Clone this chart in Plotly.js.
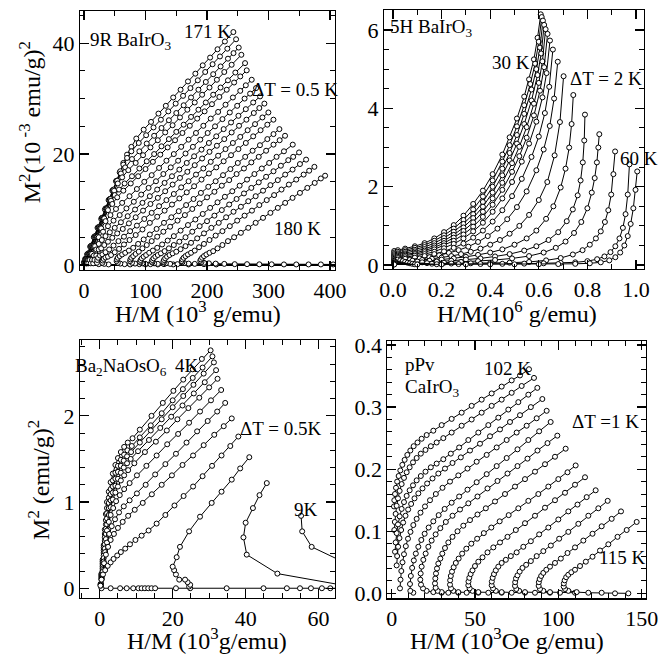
<!DOCTYPE html>
<html><head><meta charset="utf-8">
<script src="https://cdn.plot.ly/plotly-3.0.1.min.js"></script>
<style>html,body{margin:0;padding:0;background:#fff}#chart{width:660px;height:658px}</style>
</head><body><div id="chart"></div>
<script>
// ---------- Panel 1: 9R BaIrO3, M^2 (10^-3 emu/g)^2 vs H/M (10^3 g/emu) ----------
const p1Temps = [171,171.5,172,172.5,173,173.5,174,174.5,175,175.5,176,176.5,177,177.5,178,178.5,179,179.5,180];
const p1X = [
[0,2,5,10,16,22,28,34,40,46,52,58,64,70,77,85,97,109,121,133,145,157,169,181,193,205,217,229,242.8],
[0.5,2.5,6,11,17,23,29,35,41,47,53,59,64,70,77,89,101,113,125,137,149,161,173,185,197,209,221,233,247.2],
[1,3,7,12,18,24,30,36,42,48,54,60,67,78,90,102,114,126,138,150,162,174,186,198,210,222,234,243,251.5],
[2,4,8,13,19,25,31,37,43,49,55,62,72,84,96,108,120,132,144,156,168,180,192,204,216,228,240,255.8],
[3,5,9,14,20,26,32,38,44,50,57,66,78,90,102,114,126,138,150,162,174,186,198,210,222,234,246,261.8],
[4,6,10,15,21,27,33,39,46,54,64,76,88,100,112,124,136,148,160,172,184,196,208,220,232,244,254,264.5],
[5,7,11,16,22,28,35,43,52,62,74,86,98,110,122,134,146,158,170,182,194,206,218,230,242,254,263,272.6],
[7,9,13,18,24,31,39,48,58,69,81,93,105,117,129,141,153,165,177,189,201,213,225,237,249,261,270,279.7],
[11,13,16,20,24,29,35,42,50,60,71,83,95,107,119,131,143,155,167,179,191,203,215,227,239,251,263,275,286.2],
[15,17,20,24,28,33,39,46,54,63,73,84,96,108,120,132,144,156,168,180,192,204,216,228,240,252,264,276,285,293.2],
[24,21,21.5,23,26,30,35,41,48,56,65,75,86,98,110,122,134,146,158,170,182,194,206,218,230,242,254,266,278,290,299.7],
[40,33,30,30.5,32,35,39,44,50,57,65,74,84,95,107,119,131,143,155,167,179,191,203,215,227,239,251,263,275,287,298,307.9],
[75,66,59,55,53,53.5,55,58,62,67,73,80,88,97,107,118,130,142,154,166,178,190,202,214,226,238,250,262,274,286,298,308,317.6],
[100,90,83,78,75,75.5,77,80,84,89,95,102,110,119,129,140,152,164,176,188,200,212,224,236,248,260,272,284,296,308,318,326.8],
[120,108,100,95,92,91,92,94,97,101,106,112,119,127,136,146,157,169,181,193,205,217,229,241,253,265,277,289,301,313,325,339.3],
[145,130,120,114,111,110,111,113,116,120,125,131,138,146,155,165,176,188,200,212,224,236,248,260,272,284,296,308,320,332,340,349.6],
[170,152,140,133,130,129,130,132,135,139,144,150,157,165,174,184,195,207,219,231,243,255,267,279,291,303,315,327,339,351,361],
[215,195,180,170,163,160,159,160,162,165,169,174,180,187,195,204,214,225,237,249,261,273,285,297,309,321,333,345,357,366,374.5],
[405,385,365,345,325,305,285,265,245,228,214,203,195,191,189,190,192,195,199,204,210,217,225,234,244,255,267,279,291,303,315,327,339,351,363,375,385,391.9]
];
const p1Y = [
[0.5,1.1,1.9,3.3,5.0,6.7,8.3,10.0,11.7,13.4,15.1,16.7,18.4,19.9,21.3,22.8,24.4,25.8,27.3,28.7,30.2,31.6,33.1,34.5,36.0,37.4,38.9,40.3,42.0],
[0.5,1.1,2.0,3.4,5.1,6.8,8.5,10.2,11.8,13.5,15.2,16.9,18.1,19.3,20.5,22.0,23.4,24.8,26.2,27.7,29.1,30.5,31.9,33.3,34.8,36.2,37.6,39.0,40.7],
[0.4,1.0,2.1,3.5,5.2,6.8,8.5,10.2,11.9,13.6,15.2,16.5,17.6,19.1,20.5,21.9,23.3,24.7,26.1,27.4,28.8,30.2,31.6,33.0,34.4,35.8,37.2,38.2,39.2],
[0.4,1.0,2.1,3.5,5.2,6.8,8.5,10.2,11.9,13.4,14.7,15.8,17.1,18.4,19.8,21.2,22.5,23.9,25.2,26.6,28.0,29.3,30.7,32.0,33.4,34.8,36.1,37.9],
[0.3,0.9,2.0,3.4,5.1,6.7,8.4,10.1,11.6,12.6,13.6,14.7,16.0,17.4,18.7,20.0,21.4,22.7,24.0,25.3,26.7,28.0,29.3,30.7,32.0,33.3,34.7,36.4],
[0.3,0.9,2.0,3.4,5.1,6.7,8.4,9.9,11.0,12.2,13.4,14.7,16.0,17.3,18.6,19.9,21.2,22.5,23.8,25.1,26.4,27.7,29.0,30.3,31.6,32.9,34.0,35.1],
[0.3,0.9,2.0,3.4,5.1,6.6,7.9,9.0,10.1,11.2,12.4,13.7,15.0,16.2,17.5,18.8,20.0,21.3,22.6,23.8,25.1,26.4,27.6,28.9,30.2,31.4,32.4,33.4],
[0.3,0.9,2.0,3.4,5.0,6.0,7.0,8.0,9.0,10.2,11.4,12.7,13.9,15.1,16.4,17.6,18.8,20.1,21.3,22.6,23.8,25.0,26.3,27.5,28.7,30.0,30.9,31.9],
[0.3,0.9,1.7,2.8,3.8,4.5,5.2,5.9,6.7,7.7,8.8,10.0,11.2,12.4,13.6,14.8,16.0,17.2,18.4,19.6,20.8,22.0,23.2,24.5,25.7,26.9,28.1,29.3,30.4],
[0.3,0.9,1.7,2.8,3.0,3.6,4.2,4.9,5.7,6.5,7.5,8.6,9.8,11.0,12.1,13.3,14.5,15.7,16.8,18.0,19.2,20.4,21.5,22.7,23.9,25.1,26.2,27.4,28.3,29.1],
[0.15,0.4,0.9,1.3,1.7,1.9,2.3,2.8,3.5,4.3,5.1,6.1,7.1,8.3,9.4,10.6,11.7,12.8,14.0,15.1,16.3,17.4,18.6,19.7,20.9,22.0,23.1,24.3,25.4,26.6,27.5],
[0.1,0.2,0.4,0.8,1.1,1.35,1.5,1.8,2.3,2.9,3.7,4.5,5.4,6.4,7.6,8.7,9.8,10.9,12.0,13.1,14.2,15.4,16.5,17.6,18.7,19.8,20.9,22.0,23.2,24.3,25.3,26.2],
[0.1,0.15,0.25,0.4,0.7,1.0,1.3,1.6,1.9,2.2,2.6,3.1,3.8,4.6,5.5,6.5,7.6,8.6,9.7,10.8,11.9,13.0,14.1,15.1,16.2,17.3,18.4,19.5,20.6,21.6,22.7,23.6,24.5],
[0.1,0.15,0.25,0.4,0.7,1.0,1.3,1.6,2.0,2.4,3.0,3.6,4.3,5.1,6.0,6.9,8.0,9.0,10.1,11.1,12.2,13.2,14.3,15.3,16.4,17.4,18.5,19.5,20.6,21.7,22.5,23.3],
[0.1,0.15,0.2,0.3,0.45,0.6,0.9,1.2,1.5,1.8,2.2,2.6,3.1,3.7,4.4,5.2,6.2,7.2,8.2,9.2,10.3,11.3,12.3,13.3,14.3,15.4,16.4,17.4,18.4,19.5,20.5,21.7],
[0.1,0.15,0.2,0.3,0.45,0.6,0.9,1.2,1.5,1.8,2.1,2.5,3.0,3.6,4.2,5.0,6.0,7.0,7.9,8.9,9.9,10.9,11.9,12.9,13.9,14.9,15.9,16.9,17.9,18.9,19.5,20.3],
[0.1,0.15,0.2,0.3,0.45,0.6,0.9,1.2,1.5,1.8,2.1,2.4,2.85,3.4,4.0,4.8,5.7,6.7,7.6,8.6,9.6,10.5,11.5,12.4,13.4,14.4,15.3,16.3,17.2,18.2,19.0],
[0.1,0.15,0.2,0.25,0.35,0.5,0.7,1.0,1.3,1.6,1.9,2.2,2.6,3.2,3.8,4.5,5.3,6.1,7.0,8.0,8.9,9.8,10.8,11.7,12.6,13.6,14.5,15.4,16.3,17.0,17.7],
[0.1,0.1,0.1,0.1,0.1,0.12,0.12,0.15,0.15,0.2,0.25,0.3,0.4,0.55,0.75,1.0,1.3,1.6,1.9,2.2,2.5,3.0,3.6,4.3,5.0,5.8,6.7,7.6,8.5,9.4,10.3,11.2,12.1,13.0,13.9,14.8,15.6,16.1]
];

// ---------- Panel 2: 5H BaIrO3, M^2 vs H/M (10^6 g/emu) ----------
const p2Temps = [30,32,34,36,38,40,42,44,46,48,50,52,54,56,58,60];
const p2X = [
[0.005,0.02,0.05,0.09,0.13,0.17,0.21,0.25,0.29,0.33,0.37,0.41,0.45,0.48,0.51,0.54,0.56,0.58,0.595,0.608],
[0.005,0.02,0.05,0.09,0.13,0.17,0.21,0.25,0.29,0.33,0.37,0.41,0.45,0.48,0.51,0.54,0.565,0.585,0.60,0.612],
[0.005,0.02,0.05,0.09,0.13,0.17,0.21,0.25,0.29,0.33,0.37,0.41,0.45,0.48,0.51,0.54,0.57,0.59,0.605,0.617],
[0.005,0.02,0.05,0.09,0.13,0.17,0.21,0.25,0.29,0.33,0.37,0.41,0.45,0.48,0.51,0.54,0.57,0.595,0.61,0.622],
[0.005,0.02,0.05,0.09,0.13,0.17,0.21,0.25,0.29,0.33,0.37,0.41,0.45,0.49,0.52,0.55,0.58,0.60,0.615,0.628],
[0.005,0.02,0.05,0.09,0.13,0.17,0.21,0.25,0.29,0.33,0.37,0.41,0.45,0.49,0.52,0.55,0.58,0.605,0.622,0.636],
[0.005,0.02,0.05,0.09,0.13,0.17,0.21,0.25,0.29,0.33,0.37,0.41,0.45,0.49,0.53,0.56,0.59,0.615,0.632,0.646],
[0.005,0.02,0.05,0.09,0.13,0.17,0.21,0.25,0.29,0.33,0.37,0.41,0.45,0.49,0.53,0.57,0.60,0.625,0.643,0.658],
[0.005,0.03,0.07,0.11,0.15,0.19,0.23,0.27,0.31,0.35,0.39,0.43,0.47,0.51,0.55,0.59,0.62,0.645,0.663,0.678],
[0.005,0.04,0.08,0.12,0.16,0.20,0.24,0.28,0.32,0.36,0.40,0.44,0.48,0.52,0.56,0.60,0.635,0.665,0.687,0.702],
[0.005,0.05,0.10,0.15,0.20,0.25,0.30,0.35,0.40,0.45,0.50,0.55,0.59,0.63,0.66,0.69,0.71,0.725,0.735,0.742],
[0.005,0.06,0.12,0.18,0.24,0.30,0.36,0.42,0.48,0.54,0.59,0.64,0.68,0.715,0.74,0.76,0.772,0.781,0.787,0.790],
[0.005,0.07,0.14,0.21,0.28,0.35,0.42,0.49,0.56,0.62,0.67,0.71,0.745,0.775,0.80,0.818,0.83,0.839,0.845,0.849],
[0.005,0.08,0.16,0.24,0.32,0.40,0.48,0.56,0.63,0.69,0.74,0.78,0.81,0.835,0.855,0.872,0.886,0.898,0.907,0.914],
[0.005,0.09,0.18,0.27,0.36,0.45,0.54,0.62,0.69,0.75,0.80,0.84,0.87,0.895,0.915,0.932,0.946,0.957,0.966,0.973],
[0.005,0.10,0.20,0.30,0.40,0.50,0.60,0.68,0.75,0.81,0.855,0.89,0.915,0.935,0.952,0.966,0.978,0.989,0.998,1.005]
];
const p2Y = [
[0.36,0.38,0.42,0.48,0.56,0.68,0.84,1.02,1.26,1.56,1.90,2.32,2.82,3.26,3.74,4.30,4.74,5.25,5.80,6.40],
[0.32,0.34,0.38,0.44,0.51,0.62,0.76,0.93,1.15,1.42,1.75,2.16,2.64,3.06,3.54,4.08,4.62,5.14,5.70,6.33],
[0.28,0.30,0.34,0.39,0.46,0.56,0.69,0.85,1.05,1.30,1.61,2.00,2.46,2.86,3.32,3.86,4.48,5.00,5.55,6.24],
[0.25,0.27,0.30,0.35,0.41,0.50,0.62,0.77,0.96,1.20,1.49,1.85,2.29,2.67,3.10,3.60,4.20,4.85,5.40,6.13],
[0.22,0.24,0.27,0.31,0.37,0.45,0.56,0.70,0.87,1.09,1.36,1.70,2.10,2.60,3.02,3.52,4.12,4.65,5.20,6.02],
[0.19,0.21,0.24,0.28,0.33,0.40,0.50,0.62,0.78,0.98,1.23,1.54,1.92,2.38,2.78,3.25,3.82,4.45,5.05,5.90],
[0.16,0.18,0.20,0.24,0.28,0.34,0.43,0.54,0.68,0.86,1.08,1.36,1.70,2.12,2.64,3.10,3.66,4.28,4.90,5.73],
[0.13,0.14,0.16,0.19,0.23,0.28,0.35,0.44,0.55,0.70,0.88,1.11,1.40,1.76,2.20,2.76,3.28,3.88,4.55,5.50],
[0.11,0.12,0.14,0.17,0.20,0.25,0.31,0.38,0.47,0.59,0.74,0.93,1.17,1.48,1.88,2.42,2.95,3.55,4.25,5.19],
[0.09,0.10,0.11,0.13,0.16,0.19,0.23,0.28,0.34,0.42,0.52,0.64,0.80,1.00,1.28,1.66,2.12,2.80,3.65,4.82],
[0.07,0.08,0.09,0.11,0.14,0.17,0.21,0.26,0.32,0.40,0.52,0.68,0.88,1.18,1.50,1.98,2.46,3.00,3.60,4.34],
[0.05,0.06,0.07,0.09,0.11,0.14,0.17,0.22,0.28,0.37,0.48,0.64,0.84,1.12,1.42,1.78,2.16,2.62,3.18,3.84],
[0.04,0.045,0.05,0.06,0.08,0.10,0.13,0.17,0.23,0.32,0.44,0.60,0.82,1.10,1.45,1.85,2.22,2.62,3.00,3.34],
[0.03,0.032,0.035,0.04,0.045,0.05,0.06,0.08,0.12,0.18,0.27,0.38,0.52,0.68,0.86,1.10,1.40,1.80,2.32,2.90],
[0.02,0.02,0.022,0.025,0.028,0.032,0.037,0.045,0.055,0.07,0.10,0.15,0.22,0.33,0.48,0.68,0.95,1.30,1.80,2.57],
[0.015,0.015,0.016,0.017,0.018,0.02,0.022,0.026,0.032,0.045,0.07,0.12,0.2,0.32,0.5,0.74,1.05,1.45,1.92,2.39]
];

// ---------- Panel 3: Ba2NaOsO6, M^2 (emu/g)^2 vs H/M (10^3 g/emu) ----------
const p3Temps = [4,4.5,5,5.5,6,6.5,7,7.5,8,8.5,9,9.5];
const p3X = [
[0.3,0.5,0.8,1.1,1.4,1.7,2.0,2.5,3.0,3.6,4.3,5.0,5.8,6.7,7.7,9.0,11.0,14.2,17.3,20.2,22.9,25.5,28.0,30.4],
[0.3,0.5,0.8,1.1,1.4,1.7,2.0,2.5,3.0,3.6,4.3,5.0,5.8,6.7,7.6,8.8,11.0,14.0,17.0,20.0,22.8,25.5,28.2,30.9],
[0.3,0.5,0.8,1.1,1.4,1.7,2.0,2.5,3.0,3.6,4.3,5.0,5.8,6.6,7.5,8.6,11.0,14.0,17.0,20.0,22.9,25.7,28.5,31.3],
[0.3,0.5,0.8,1.1,1.4,1.7,2.0,2.5,3.0,3.6,4.3,5.0,5.8,6.6,7.5,8.5,10.5,13.5,16.6,19.6,22.7,25.8,28.8,31.9],
[0.3,0.5,0.8,1.1,1.4,1.7,2.0,2.5,3.0,3.6,4.3,5.0,5.8,6.7,7.8,9.5,12.4,15.4,18.4,21.3,24.3,27.3,30.0,32.3],
[0.3,0.5,0.8,1.1,1.4,1.7,2.0,2.5,3.0,3.7,4.5,5.5,6.7,8.2,10.2,12.8,15.6,18.5,21.5,24.5,27.5,30.5,33.3],
[0.3,0.5,0.8,1.1,1.5,2.0,2.6,3.3,4.2,5.3,6.6,8.2,10.2,12.6,15.2,18.0,20.9,23.8,26.7,29.6,32.2,34.4],
[0.3,0.5,0.8,1.2,1.7,2.3,3.0,3.9,5.0,6.3,7.8,9.6,11.8,14.3,17.0,19.8,22.7,25.6,28.5,31.4,34.0,36.2],
[0.2,0.5,0.9,1.5,2.2,3.0,3.8,4.8,5.8,7.0,8.3,9.8,11.5,13.4,15.6,18.0,20.5,23.0,25.6,28.2,30.8,33.4,35.8,38.0],
[24.5,24.8,24.1,23.4,21.8,20.9,20.4,20.0,21.1,22.0,24.5,27.5,30.7,33.4,36.2,38.5,41.0],
[70,48.7,40.3,39.4,40.0,42.0,43.8,45.8],
[70,58.1,55.5,55.2]
];
const p3Y = [
[0.05,0.17,0.33,0.50,0.68,0.86,1.00,1.12,1.23,1.33,1.43,1.51,1.58,1.64,1.69,1.74,1.84,2.00,2.15,2.29,2.42,2.54,2.66,2.76],
[0.05,0.16,0.31,0.47,0.63,0.79,0.93,1.05,1.15,1.25,1.34,1.42,1.49,1.55,1.60,1.65,1.75,1.89,2.03,2.18,2.31,2.44,2.56,2.69],
[0.05,0.15,0.29,0.44,0.59,0.74,0.87,0.99,1.09,1.18,1.27,1.35,1.42,1.48,1.53,1.58,1.69,1.83,1.96,2.10,2.23,2.36,2.49,2.62],
[0.05,0.14,0.27,0.41,0.55,0.69,0.81,0.93,1.02,1.11,1.19,1.27,1.34,1.40,1.45,1.50,1.59,1.72,1.86,1.99,2.12,2.26,2.39,2.53],
[0.04,0.13,0.25,0.38,0.51,0.63,0.74,0.85,0.94,1.03,1.11,1.18,1.25,1.31,1.37,1.45,1.58,1.70,1.83,1.96,2.09,2.21,2.33,2.43],
[0.04,0.12,0.23,0.35,0.46,0.57,0.67,0.77,0.85,0.93,1.01,1.08,1.15,1.22,1.31,1.42,1.54,1.67,1.79,1.92,2.05,2.18,2.30],
[0.04,0.11,0.21,0.31,0.42,0.53,0.63,0.72,0.80,0.88,0.95,1.02,1.10,1.20,1.32,1.44,1.56,1.69,1.82,1.94,2.05,2.15],
[0.03,0.10,0.19,0.29,0.39,0.48,0.56,0.63,0.70,0.77,0.84,0.91,0.99,1.09,1.20,1.31,1.43,1.54,1.66,1.78,1.88,1.97],
[0.03,0.10,0.16,0.21,0.26,0.30,0.34,0.38,0.42,0.46,0.51,0.56,0.61,0.67,0.75,0.85,0.96,1.07,1.18,1.30,1.42,1.54,1.65,1.76],
[0.02,0.04,0.07,0.10,0.10,0.16,0.21,0.25,0.36,0.48,0.66,0.83,0.99,1.12,1.26,1.39,1.52],
[0.01,0.17,0.39,0.59,0.76,0.93,1.08,1.22],
[0.24,0.48,0.66,0.84]
];
const p3BaseX = [0.5,3.0,5.6,7.4,9.2,10.6,11.5,12.4,13.3,14.2,15.2,20.9,24.8,34.8,44.9,51.3,54.9,57.9,60.9,63.2,70];
const p3BaseY = [0,0,0,0,0,0,0,0,0,0,0,0,0,0,0,0,0,0,0,0,0];

// ---------- Panel 4: pPv CaIrO3, M^2 vs H/M (10^3 Oe g/emu) ----------
const p4Temps = [102,103,104,105,106,107,108,109,110,111,112,113,114,115];
const p4X = [
[1.4,1.6,2.0,2.6,3.3,4.2,5.2,6.4,7.8,9.4,11.2,13.2,15.5,18.0,21,25,30,36,42,48,54,60,66,72,77,82.4],
[1.6,1.9,2.4,3.0,3.8,4.8,6.0,7.4,9.0,10.8,12.8,15.0,17.5,20.3,23.5,27,31,36,42,48,54,60,66,72,78,85.4],
[2.0,2.4,3.0,3.8,4.8,6.0,7.4,9.0,10.8,12.8,15.0,17.5,20.3,23.5,27,31,35.5,40.5,46,52,58,64,70,76,82,87.4],
[3.0,3.3,3.9,4.7,5.7,6.9,8.3,9.9,11.7,13.7,16,18.5,21.3,24.5,28,32,36.5,41.5,47,53,59,65,71,77,83.5,90.4],
[5.0,5.3,5.8,6.5,7.4,8.5,9.8,11.3,13.0,15.0,17.3,20,23,26.5,30.5,35,40,45.5,51,57,63,69,75,81,87,93.0],
[13.0,11.2,11.0,11.5,12.3,13.3,14.5,16.0,17.8,19.8,22.2,25,28.2,31.8,36,40.5,45.5,51,57,63,69,75.5,82,88.5,95.4],
[30,25,21,18.8,17.6,17.2,17.4,18.0,19.0,20.4,22.0,24.0,26.4,29.2,32.5,36.5,41,46,51.5,57.5,63.5,69.5,75.5,81.5,87.5,93.5,99.4],
[40,34,30,27.6,26.4,26.0,26.2,26.6,27.2,28.0,29.2,30.4,32.0,34.0,36.5,39.5,43,47,51.5,56.5,62,68,74,80,86,92,98,104.4],
[52,45,40,37,35.6,35.0,35.1,35.5,36.2,37.2,38.5,40.2,42.3,44.8,47.8,51.3,55.3,59.8,64.8,70.2,76,82,88,94,100,105.5,110.4],
[66,58,52,48.5,46.8,46.0,46.1,46.6,47.4,48.5,50.0,52.0,54.5,57.5,61,65,69.5,74.5,80,86,92,98,104,110,116.0],
[80,72,66,62.5,60.8,60.0,60.1,60.6,61.4,62.5,64,66,68.5,71.5,75,79,83.5,88.5,94,100,106,111.5,117,122.4],
[95,86,80,76.5,74.8,74.0,74.1,74.6,75.5,76.8,78.5,80.7,83.5,87,91,95.5,100.5,106,112,118,124,129.6],
[110,101,95,91,89,88.2,88.3,88.8,89.7,91,92.8,95,98,101.5,105.5,110,115,120.5,126,132,137.6],
[142,134,126,118,111,106,104,103.2,103.3,103.8,104.7,106,107.8,110,113,116.5,120.5,125,130,135.5,141,147.0]
];
const p4Y = [
[0.140,0.150,0.160,0.170,0.180,0.189,0.198,0.207,0.215,0.223,0.230,0.237,0.243,0.249,0.255,0.262,0.271,0.281,0.291,0.302,0.312,0.322,0.333,0.343,0.351,0.361],
[0.102,0.115,0.128,0.141,0.153,0.165,0.176,0.186,0.195,0.203,0.211,0.218,0.225,0.231,0.237,0.243,0.250,0.259,0.270,0.280,0.291,0.302,0.312,0.323,0.334,0.347],
[0.067,0.082,0.097,0.111,0.124,0.136,0.147,0.157,0.166,0.174,0.182,0.189,0.196,0.203,0.209,0.216,0.225,0.235,0.247,0.259,0.271,0.283,0.296,0.308,0.320,0.331],
[0.045,0.060,0.075,0.089,0.102,0.114,0.125,0.135,0.144,0.153,0.161,0.169,0.177,0.185,0.193,0.201,0.210,0.219,0.230,0.241,0.253,0.264,0.276,0.287,0.300,0.313],
[0.008,0.022,0.036,0.050,0.063,0.076,0.088,0.099,0.110,0.120,0.130,0.140,0.150,0.160,0.170,0.180,0.190,0.201,0.212,0.223,0.235,0.247,0.259,0.270,0.282,0.294],
[0.001,0.004,0.015,0.028,0.041,0.053,0.064,0.075,0.086,0.096,0.106,0.116,0.126,0.136,0.146,0.156,0.167,0.179,0.192,0.205,0.218,0.232,0.247,0.261,0.276],
[0.001,0.002,0.004,0.008,0.014,0.022,0.032,0.043,0.054,0.064,0.075,0.085,0.095,0.105,0.115,0.125,0.135,0.145,0.156,0.169,0.181,0.193,0.205,0.217,0.230,0.242,0.254],
[0.001,0.001,0.002,0.004,0.009,0.016,0.024,0.032,0.040,0.048,0.056,0.064,0.073,0.082,0.091,0.100,0.109,0.118,0.127,0.137,0.148,0.160,0.172,0.184,0.196,0.208,0.220,0.233],
[0.001,0.001,0.002,0.004,0.008,0.014,0.021,0.028,0.035,0.042,0.049,0.056,0.064,0.072,0.080,0.088,0.097,0.106,0.116,0.126,0.137,0.149,0.160,0.172,0.184,0.195,0.206],
[0.001,0.001,0.002,0.004,0.008,0.013,0.019,0.025,0.031,0.037,0.044,0.051,0.058,0.066,0.074,0.082,0.091,0.102,0.113,0.125,0.138,0.150,0.162,0.175,0.187],
[0.001,0.001,0.002,0.004,0.008,0.013,0.019,0.025,0.031,0.037,0.043,0.049,0.054,0.060,0.066,0.075,0.084,0.095,0.106,0.119,0.132,0.143,0.155,0.166],
[0.001,0.001,0.002,0.004,0.007,0.012,0.018,0.024,0.029,0.035,0.041,0.046,0.052,0.060,0.068,0.077,0.088,0.099,0.112,0.125,0.137,0.149],
[0.001,0.001,0.002,0.004,0.007,0.012,0.018,0.023,0.028,0.033,0.038,0.043,0.049,0.056,0.065,0.074,0.085,0.096,0.108,0.120,0.132],
[0.0,0.0,0.001,0.001,0.002,0.004,0.007,0.011,0.016,0.021,0.026,0.030,0.034,0.038,0.044,0.051,0.059,0.069,0.079,0.091,0.102,0.115]
];

// ---------- build ----------
const FONT = 'Liberation Serif, Times New Roman, serif';
const traces = [];
function addCurves(xs, ys, names, xa, ya, msize) {
  for (let i = 0; i < xs.length; i++) {
    traces.push({
      type: 'scatter', mode: 'lines+markers', x: xs[i], y: ys[i],
      name: String(names[i]), xaxis: xa, yaxis: ya, hoverinfo: 'skip',
      line: {color: '#000', width: 1},
      marker: {symbol: 'circle', size: msize, color: '#fff', line: {color: '#000', width: 1}}
    });
  }
}
addCurves(p1X, p1Y, p1Temps, 'x', 'y', 5);
addCurves(p2X, p2Y, p2Temps, 'x2', 'y2', 5);
addCurves([p3BaseX], [p3BaseY], ['base'], 'x3', 'y3', 5);
addCurves(p3X, p3Y, p3Temps, 'x3', 'y3', 5);
addCurves(p4X, p4Y, p4Temps, 'x4', 'y4', 5);

function ax(domain, anchor, range, dtick, minor, fmt, extra) {
  return Object.assign({
    domain: domain, anchor: anchor, range: range, dtick: dtick, tick0: 0,
    tickformat: fmt || '', showgrid: false, zeroline: false,
    showline: true, linecolor: '#000', linewidth: 1.2, mirror: 'allticks',
    ticks: 'inside', ticklen: 9, tickwidth: 1.2, tickcolor: '#000',
    minor: {ticks: 'inside', ticklen: 5, tickwidth: 1, tickcolor: '#000', dtick: minor, tick0: 0, showgrid: false},
    tickfont: {family: FONT, size: 22, color: '#000'}
  }, extra || {});
}

function note(text, xref, yref, x, y, xanchor, size, extra) {
  return Object.assign({text: text, xref: xref, yref: yref, x: x, y: y, xanchor: xanchor || 'left',
    yanchor: 'middle', showarrow: false, font: {family: FONT, size: size || 19, color: '#000'}}, extra || {});
}

const annotations = [
  // panel 1
  note('9R BaIrO<sub>3</sub>', 'x', 'y', 6.5, 40.3),
  note('171 K', 'x', 'y', 200.8, 42.1, 'center'),
  note('\u0394T = 0.5 K', 'x', 'y', 270, 31.6),
  note('180 K', 'x', 'y', 305.7, 6.5),
  // panel 2
  note('5H BaIrO<sub>3</sub>', 'x2', 'y2', -0.02, 6.05),
  note('30 K', 'x2', 'y2', 0.40, 5.18),
  note('\u0394T = 2 K', 'x2', 'y2', 0.72, 4.77),
  note('60 K', 'x2', 'y2', 0.926, 2.71),
  // panel 3
  note('Ba<sub>2</sub>NaOsO<sub>6</sub>', 'paper', 'paper', 0.1106, 0.4422),
  note('4K', 'x3', 'y3', 20.0, 2.58),
  note('\u0394T = 0.5K', 'x3', 'y3', 37.9, 1.85),
  note('9K', 'x3', 'y3', 52.7, 0.91),
  // panel 4
  note('pPv', 'x4', 'y4', 6.8, 0.368),
  note('CaIrO<sub>3</sub>', 'x4', 'y4', 6.8, 0.331),
  note('102 K', 'x4', 'y4', 54.2, 0.362),
  note('\u0394T =1 K', 'x4', 'y4', 107, 0.276),
  note('115 K', 'x4', 'y4', 123.2, 0.057),
  // axis titles
  note('M<sup>2</sup>(10<sup> -3</sup> emu/g)<sup>2</sup>', 'paper', 'paper', 0.046, 0.8146, 'center', 24, {textangle: -90}),
  note('H/M (10<sup>3</sup> g/emu)', 'paper', 'paper', 0.300, 0.5264, 'center', 24),
  note('H/M(10<sup>6</sup> g/emu)', 'paper', 'paper', 0.7833, 0.5264, 'center', 24),
  note('M<sup>2</sup> (emu/g)<sup>2</sup>', 'paper', 'paper', 0.0590, 0.2705, 'center', 24, {textangle: -90}),
  note('H/M (10<sup>3</sup>g/emu)', 'paper', 'paper', 0.3136, 0.0290, 'center', 24),
  note('H/M (10<sup>3</sup>Oe g/emu)', 'paper', 'paper', 0.7682, 0.0290, 'center', 24)
];

const layout = {
  width: 660, height: 658, margin: {l: 0, r: 0, t: 0, b: 0},
  paper_bgcolor: '#fff', plot_bgcolor: '#fff', showlegend: false,
  font: {family: FONT, color: '#000'},
  xaxis:  ax([0.1212, 0.5076], 'y',  [-6.5, 408], 100, 50),
  yaxis:  ax([0.5897, 0.9833], 'x',  [-0.9, 45.8], 20, 5, '', {zeroline: true, zerolinecolor: '#000', zerolinewidth: 1.5}),
  xaxis2: ax([0.5818, 0.9758], 'y2', [-0.037, 1.033], 0.2, 0.1, '.1f'),
  yaxis2: ax([0.5912, 0.9848], 'x2', [-0.10, 6.51], 2, 0.5),
  xaxis3: ax([0.1212, 0.5076], 'y3', [-5.4, 64.5], 20, 5),
  yaxis3: ax([0.0912, 0.4833], 'x3', [-0.113, 2.88], 1, 0.2),
  xaxis4: ax([0.5871, 0.9788], 'y4', [-2.5, 152.6], 50, 10),
  yaxis4: ax([0.0907, 0.4818], 'x4', [-0.008, 0.4065], 0.1, 0.02, '.1f'),
  annotations: annotations
};

Plotly.newPlot('chart', traces, layout, {staticPlot: true, displayModeBar: false});
</script>
</body></html>
